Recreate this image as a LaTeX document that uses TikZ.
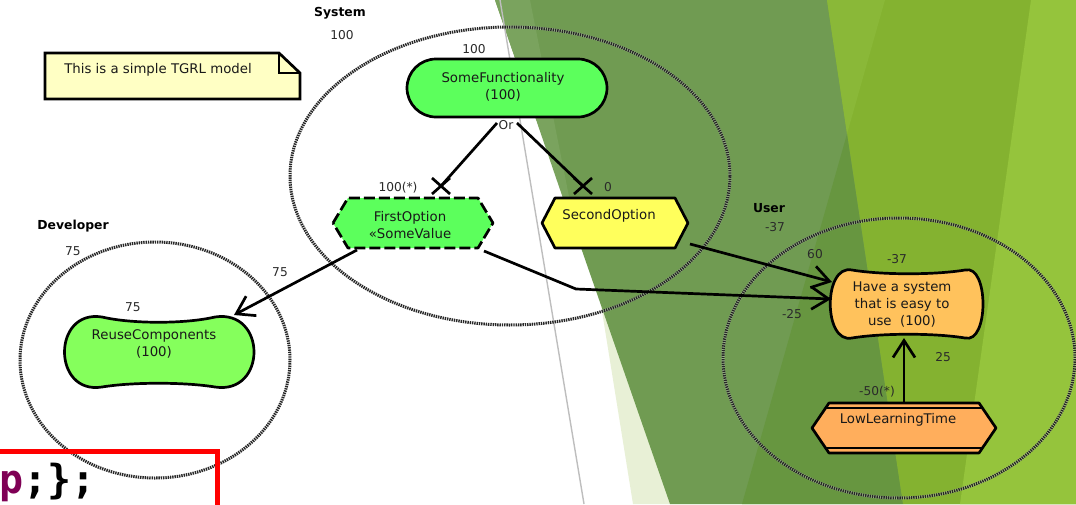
\documentclass[tikz,border=0pt]{standalone}
\usepackage{fontspec}
\setmainfont{DejaVu Sans}
\newfontfamily\codefont{DejaVu Sans Mono}
\usetikzlibrary{calc,arrows.meta}
\definecolor{gmain}{HTML}{709B52}
\definecolor{glight}{HTML}{7AA35E}
\definecolor{gdark}{HTML}{679640}
\definecolor{yg}{HTML}{84B230}
\definecolor{yglight}{HTML}{8AB838}
\definecolor{ygfar}{HTML}{95C43C}
\definecolor{wedge}{HTML}{E8F0D6}
\definecolor{nodegreen}{HTML}{5CFF5C}
\definecolor{rcgreen}{HTML}{85FF5C}
\definecolor{optyellow}{HTML}{FFFF5C}
\definecolor{hsorange}{HTML}{FFC25C}
\definecolor{lltorange}{HTML}{FFAE5C}
\definecolor{notefill}{HTML}{FFFFC4}
\definecolor{codep}{HTML}{7F0055}
\definecolor{linegray}{HTML}{BEBEBE}
\definecolor{numtext}{HTML}{2A2A2A}
\begin{document}
\begin{tikzpicture}[x=1pt,y=-1pt,
  shp/.style={draw=black, line width=2.7pt, line join=round},
  shapenode/.style={inner sep=0pt, outer sep=0pt},
  elemtext/.style={font=\fontsize{13.3}{17}\selectfont, align=center, inner sep=0pt, text=black!90},
  num/.style={font=\fontsize{12.2}{14}\selectfont, inner sep=0pt, text=numtext},
  grplbl/.style={font=\fontsize{12.4}{14}\selectfont\bfseries, inner sep=0pt},
  grpunder/.style={draw=white, opacity=0.4, line width=3pt},
  grpline/.style={draw=black!85, line width=3pt, dash pattern=on 1.4pt off 0.9pt},
  conn/.style={draw=black, line width=2.7pt},
  arr/.style={draw=black, line width=2.7pt, -{Straight Barb[length=17pt,width=22pt,line width=2.7pt]}}]
\useasboundingbox (0,0) rectangle (1076,504);
\clip (0,0) rectangle (1076,504);
% background
\fill[white] (0,0) rectangle (1076,504);
\fill[wedge] (552,0) -- (633,504) -- (1076,504) -- (1076,0) -- cycle;
\fill[gmain] (495,0) -- (670,504) -- (1076,504) -- (1076,0) -- cycle;
\fill[glight] (495,0) -- (530,0) -- (578,242) -- cycle;
\fill[gdark] (847,134) -- (903,504) -- (742,504) -- cycle;
\fill[yg] (827,0) -- (1076,0) -- (1076,504) -- (903,504) -- cycle;
\fill[yglight] (827,0) -- (885,0) -- (847,134) -- cycle;
\fill[ygfar] (1031,0) -- (1076,0) -- (1076,504) -- (960,504) -- cycle;
\draw[linegray, line width=1.4pt] (500,0) -- (584,504);

% group ellipses
\draw[grpunder] (510,176) ellipse [x radius=220pt, y radius=149pt];
\draw[grpline] (510,176) ellipse [x radius=220pt, y radius=149pt];
\draw[grpunder] (155,360) ellipse [x radius=135pt, y radius=118pt];
\draw[grpline] (155,360) ellipse [x radius=135pt, y radius=118pt];
\draw[grpunder] (899,358) ellipse [x radius=176pt, y radius=140pt];
\draw[grpline] (899,358) ellipse [x radius=176pt, y radius=140pt];

% shape nodes
\node[shapenode, minimum width=255pt, minimum height=46pt] (note) at (172.5,76) {};
\node[shapenode, shp, fill=nodegreen, rounded corners=29pt, minimum width=200pt, minimum height=58pt] (sf) at (507,88) {};
\node[shapenode, minimum width=160pt, minimum height=50pt] (fo) at (413,223) {};
\node[shapenode, minimum width=146pt, minimum height=50pt] (so) at (615,223) {};
\node[shapenode, minimum width=189pt, minimum height=70pt] (rc) at (160.5,352) {};
\node[shapenode, minimum width=153pt, minimum height=68pt] (hs) at (906.5,304) {};
\node[shapenode, minimum width=184pt, minimum height=50pt] (llt) at (904,428) {};

% outlines
\draw[shp, fill=notefill, line join=miter] (note.north west) -- ($(note.north east)+(-21,0)$) -- ($(note.north east)+(0,20)$) -- (note.south east) -- (note.south west) -- cycle;
\draw[shp, line join=miter] ($(note.north east)+(-21,0)$) -- ($(note.north east)+(-21,20)$) -- ($(note.north east)+(0,20)$);
\draw[shp, fill=nodegreen, dash pattern=on 11pt off 4pt] (fo.west) -- ($(fo.north west)+(15,0)$) -- ($(fo.north east)+(-15,0)$) -- (fo.east) -- ($(fo.south east)+(-15,0)$) -- ($(fo.south west)+(15,0)$) -- cycle;
\draw[shp, fill=optyellow] (so.west) -- ($(so.north west)+(13,0)$) -- ($(so.north east)+(-13,0)$) -- (so.east) -- ($(so.south east)+(-13,0)$) -- ($(so.south west)+(13,0)$) -- cycle;
\draw[shp, fill=rcgreen] ($(rc.north west)+(36,0)$) .. controls +(30,7) and +(-30,7) .. ($(rc.north east)+(-40,0)$)
  .. controls +(52,-8) and +(52,8) .. ($(rc.south east)+(-40,0)$)
  .. controls +(-30,-5) and +(30,-5) .. ($(rc.south west)+(36,0)$)
  .. controls +(-50,8) and +(-50,-8) .. ($(rc.north west)+(36,0)$) -- cycle;
\draw[shp, fill=hsorange] ($(hs.north west)+(22,0)$) .. controls +(30,5) and +(-30,5) .. ($(hs.north east)+(-18,0)$)
  .. controls +(24,-6) and +(24,6) .. ($(hs.south east)+(-18,0)$)
  .. controls +(-30,-5) and +(30,-5) .. ($(hs.south west)+(22,0)$)
  .. controls +(-29,6) and +(-29,-6) .. ($(hs.north west)+(22,0)$) -- cycle;
\draw[shp, fill=lltorange] (llt.west) -- ($(llt.north west)+(17,0)$) -- ($(llt.north east)+(-17,0)$) -- (llt.east) -- ($(llt.south east)+(-17,0)$) -- ($(llt.south west)+(17,0)$) -- cycle;
\draw[black, line width=2.2pt] ($(llt.north west)+(14,5)$) -- ($(llt.north east)+(-14,5)$);
\draw[black, line width=2.2pt] ($(llt.south west)+(14,-5)$) -- ($(llt.south east)+(-14,-5)$);

% texts in shapes
\node[elemtext] (note-t) at (158,70) {This is a simple TGRL model};
\node[elemtext] (sf-t) at (503,87) {SomeFunctionality\\(100)};
\node[elemtext] (fo-t) at (410,225) {FirstOption\\«SomeValue};
\node[elemtext] (so-t) at (609,216) {SecondOption};
\node[elemtext] (rc-t) at (154,344) {ReuseComponents\\(100)};
\node[elemtext] (hs-t) at (902,305) {Have a system\\that is easy to\\use\ \ (100)};
\node[elemtext] (llt-t) at (898,420) {LowLearningTime};

% group labels
\node[grplbl] (sys) at (340,13) {System};
\node[num] (sysv) at (342,35) {100};
\node[grplbl] (dev) at (73,226) {Developer};
\node[num] (devv) at (73,251) {75};
\node[grplbl] (usr) at (769,208) {User};
\node[num] (usrv) at (775,227) {-37};

% element / link labels
\node[num] (sfv) at (474,49) {100};
\node[num] (orlbl) at (506,125) {Or};
\node[num] (fov) at (398,188) {100(*)};
\node[num] (sov) at (608,187) {0};
\node[num] (l75) at (280,272) {75};
\node[num] (rcv) at (133,307) {75};
\node[num] (l60) at (815,254) {60};
\node[num] (l25n) at (792,314) {-25};
\node[num] (hsv) at (897,259) {-37};
\node[num] (l25) at (943,357) {25};
\node[num] (l50) at (877,392) {-50(*)};

% Or decomposition links
\coordinate (orL) at ($(sf.south)+(-10,6)$);
\coordinate (orR) at ($(sf.south)+(10,6)$);
\coordinate (xL) at ($(fo.north)+(28,-12)$);
\coordinate (xR) at ($(so.north)+(-32,-12)$);
\draw[conn] (orL) -- (xL);
\draw[conn] (orR) -- (xR);
\draw[conn] ($(xL)+(-9,-8)$) -- ($(xL)+(9,8)$) ($(xL)+(9,-8)$) -- ($(xL)+(-9,8)$);
\draw[conn] ($(xR)+(-9,-8)$) -- ($(xR)+(9,8)$) ($(xR)+(9,-8)$) -- ($(xR)+(-9,8)$);

% contributions
\coordinate (bend) at (576,289);
\draw[arr] ($(fo.south west)+(24,2)$) -- ($(rc.north east)+(-21,-2)$);
\draw[arr] ($(so.south east)+(2,-4)$) -- ($(hs.west)+(2,-22)$);
\draw[arr] ($(fo.south east)+(-9,3)$) -- (bend) -- ($(hs.west)+(1,-5)$);
\draw[arr] (llt.north) -- (llt.north |- hs.south);

% cropped fragment at bottom left
\draw[red, line width=5pt] (-10,451) -- (217,451) -- (217,520);
\node[anchor=base west, inner sep=0pt, font=\codefont\bfseries\fontsize{40}{44}\selectfont] (code) at (-1,493) {\textcolor{codep}{p};\};};
\end{tikzpicture}
\end{document}
